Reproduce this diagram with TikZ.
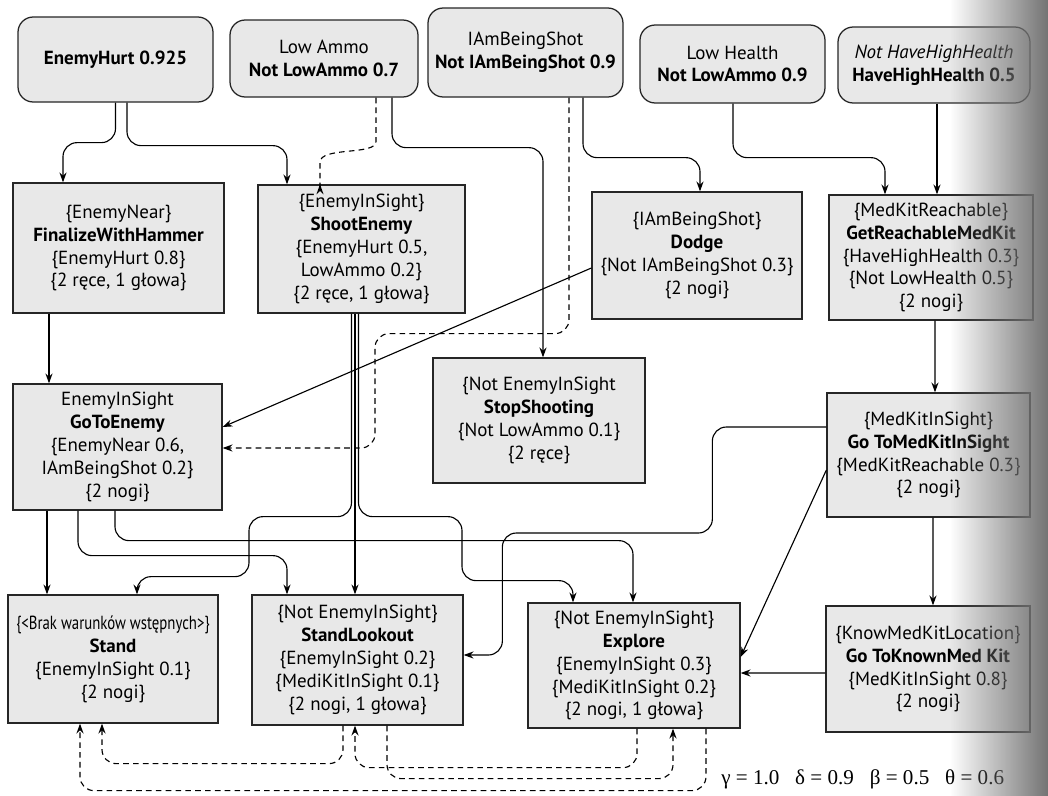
\documentclass[tikz,border=0pt]{standalone}
\usepackage{fontspec}
\setmainfont{PT Sans}
\newfontfamily\grk{Liberation Serif}
\usetikzlibrary{arrows.meta,calc,fadings}
\begin{document}
\begin{tikzpicture}[x=0.025cm,y=-0.025cm,
  box/.style={draw=black!85, line width=0.9pt, fill=black!9, align=center, inner sep=0pt,
    font=\fontsize{13.5}{16.3}\selectfont},
  sz/.style 2 args={minimum width={#1*0.025cm}, minimum height={#2*0.025cm}},
  cond/.style={box, rounded corners=0.38cm},
  act/.style={box},
  con/.style={line width=0.8pt, rounded corners=0.35cm, -{Stealth[length=7pt,width=5pt]}},
  dsh/.style={con, dash pattern=on 4pt off 3pt},
  ]
\fill[white] (0,0) rectangle (1048,796);
\useasboundingbox (0,0) rectangle (1048,796);

% condition nodes (top row)
\node[cond, sz={195}{85}] (EH) at (115.5,59.5) {\bfseries EnemyHurt 0.925};
\node[cond, sz={188}{77}] (LA) at (324,58.5) {Low Ammo\\\bfseries Not LowAmmo 0.7};
\node[cond, sz={195}{89}] (IB) at (525.5,52.5) {IAmBeingShot\\\bfseries Not IAmBeingShot 0.9};
\node[cond, sz={185}{78}] (LH) at (732.5,64) {Low Health\\\bfseries Not LowAmmo 0.9};
\node[cond, sz={192}{76}] (HH) at (934,65) {\itshape Not HaveHighHealth\\\bfseries HaveHighHealth 0.5};

% action nodes
\node[act, sz={211}{130}] (FH) at (118.5,248) {\{EnemyNear\}\\\textbf{FinalizeWithHammer}\\\{EnemyHurt 0.8\}\\\{2 ręce, 1 głowa\}};
\node[act, sz={207}{128}] (SE) at (361.5,249) {\{EnemyInSight\}\\\textbf{ShootEnemy}\\\{EnemyHurt 0.5,\\LowAmmo 0.2\}\\\{2 ręce, 1 głowa\}};
\node[act, sz={210}{127}] (DG) at (697,255.5) {\{IAmBeingShot\}\\\textbf{Dodge}\\\{Not IAmBeingShot 0.3\}\\\{2 nogi\}};
\node[act, sz={204}{125}] (GR) at (931,257.5) {\{MedKitReachable\}\\\textbf{GetReachableMedKit}\\\{HaveHighHealth 0.3\}\\\{Not LowHealth 0.5\}\\\{2 nogi\}};

\node[act, sz={209}{126}] (GE) at (117.5,447) {EnemyInSight\\\textbf{GoToEnemy}\\\{EnemyNear 0.6,\\IAmBeingShot 0.2\}\\\{2 nogi\}};
\node[act, sz={212}{125}] (SS) at (539,420.5) {\{Not EnemyInSight\\\textbf{StopShooting}\\\{Not LowAmmo 0.1\}\\\{2 ręce\}};
\node[act, sz={203}{124}] (GM) at (928.5,455) {\{MedKitInSight\}\\\textbf{Go ToMedKitInSight}\\\{MedKitReachable 0.3\}\\\{2 nogi\}};

\node[act, sz={210}{128}] (ST) at (113,659) {\scalebox{0.78}[1]{\{<Brak warunków wstępnych>\}}\\\textbf{Stand}\\\{EnemyInSight 0.1\}\\\{2 nogi\}};
\node[act, sz={211}{130}] (SL) at (357.5,660) {\{Not EnemyInSight\}\\\textbf{StandLookout}\\\{EnemyInSight 0.2\}\\\{MediKitInSight 0.1\}\\\{2 nogi, 1 głowa\}};
\node[act, sz={212}{125}] (EX) at (634,665.5) {\{Not EnemyInSight\}\\\textbf{Explore}\\\{EnemyInSight 0.3\}\\\{MediKitInSight 0.2\}\\\{2 nogi, 1 głowa\}};
\node[act, sz={204}{126}] (GK) at (928,669) {\{KnowMedKitLocation\}\\\textbf{Go ToKnownMed Kit}\\\{MedKitInSight 0.8\}\\\{2 nogi\}};

% connectors
\draw[con] (EH.south) -- ++(0,40) -| ($(FH.north)+(-55.5,0)$);
\draw[con] ($(EH.south)+(11.5,0)$) -- ++(0,43) -| ($(SE.north)+(-74.5,0)$);
\draw[dsh] ($(LA.south)+(52,0)$) -- ++(0,30) .. controls +(0,28) and +(0,-30) .. ($(SE.north)+(-41.5,-8)$) -- ($(SE.north)+(-41.5,0)$);
\draw[con] ($(LA.south)+(68,0)$) -- ++(0,50) -| ($(SS.north)+(4,0)$);
\draw[con] ($(IB.south)+(57.5,0)$) -- ++(0,60) -| ($(DG.north)+(3,0)$);
\draw[dsh] ($(IB.south)+(43.5,0)$) -- ++(0,236) -- ++(-194,0) |- ($(GE.east)+(0,1)$);
\draw[con] ($(DG.west)+(0,12.5)$) -- ($(GE.east)+(0,-20)$);
\draw[con] ($(FH.south)+(-69.5,0)$) -- ($(GE.north)+(-68.5,0)$);

\draw[con] ($(SE.south)+(-10,0)$) -- ++(0,203) -| ++(-102.5,60) -| ($(ST.north)+(24,0)$);
\draw[con] ($(SE.south)+(-6.5,0)$) -- ($(SL.north)+(-2.5,0)$);
\draw[con] ($(SE.south)+(-3,0)$) -- ++(0,203) -| ++(103.5,64) -| ($(EX.north)+(-61,0)$);

\draw[con] ($(GE.south)+(-70.5,0)$) -- ($(ST.north)+(-66,0)$);
\draw[con] ($(GE.south)+(-39.5,0)$) -- ++(0,45) -| ($(SL.north)+(-70.5,0)$);
\draw[con] ($(GE.south)+(-2.5,0)$) -- ++(0,30) -| ($(EX.north)+(-1,0)$);

\draw[con] ($(LH.south)+(0.5,0)$) -- ++(0,54) -| ($(GR.north)+(-46,0)$);
\draw[con] ($(HH.south)+(3,0)$) -- ($(GR.north)+(6,0)$);
\draw[con] ($(GR.south)+(4,0)$) -- ($(GM.north)+(6.5,0)$);
\draw[con] ($(GM.south)+(4.5,0)$) -- ($(GK.north)+(5,0)$);
\draw[con] ($(GM.west)+(0,-28)$) -| ++(-114,106) -| ++(-210,122) -- ($(SL.east)+(0,-5)$);
\draw[con] ($(GM.west)+(0,15)$) -- ($(EX.east)+(0,-8.5)$);
\draw[con] ($(GK.west)+(0,4)$) -- ($(EX.east)+(0,7.5)$);

\draw[dsh] ($(EX.south)+(72,0)$) -- ++(0,62) -| ($(ST.south)+(-33,0)$);
\draw[dsh] ($(SL.south)+(-14.5,0)$) -- ++(0,38) -| ($(ST.south)+(-11,0)$);
\draw[dsh] ($(EX.south)+(3,0)$) -- ++(0,39) -| ($(SL.south)+(-2.5,0)$);
\draw[dsh] ($(SL.south)+(29.5,0)$) -- ++(0,53) -| ($(EX.south)+(39,0)$);

\node[anchor=west, inner sep=0pt, font=\grk\fontsize{15}{17}\selectfont] (par) at (721,779)
  {γ = 1.0\enspace\ δ = 0.9\enspace\ β = 0.5\enspace\ θ = 0.6};

% scan shading at the right edge
\fill[black!55, path fading=west] (950,0) rectangle (1048,796);
\end{tikzpicture}
\end{document}
